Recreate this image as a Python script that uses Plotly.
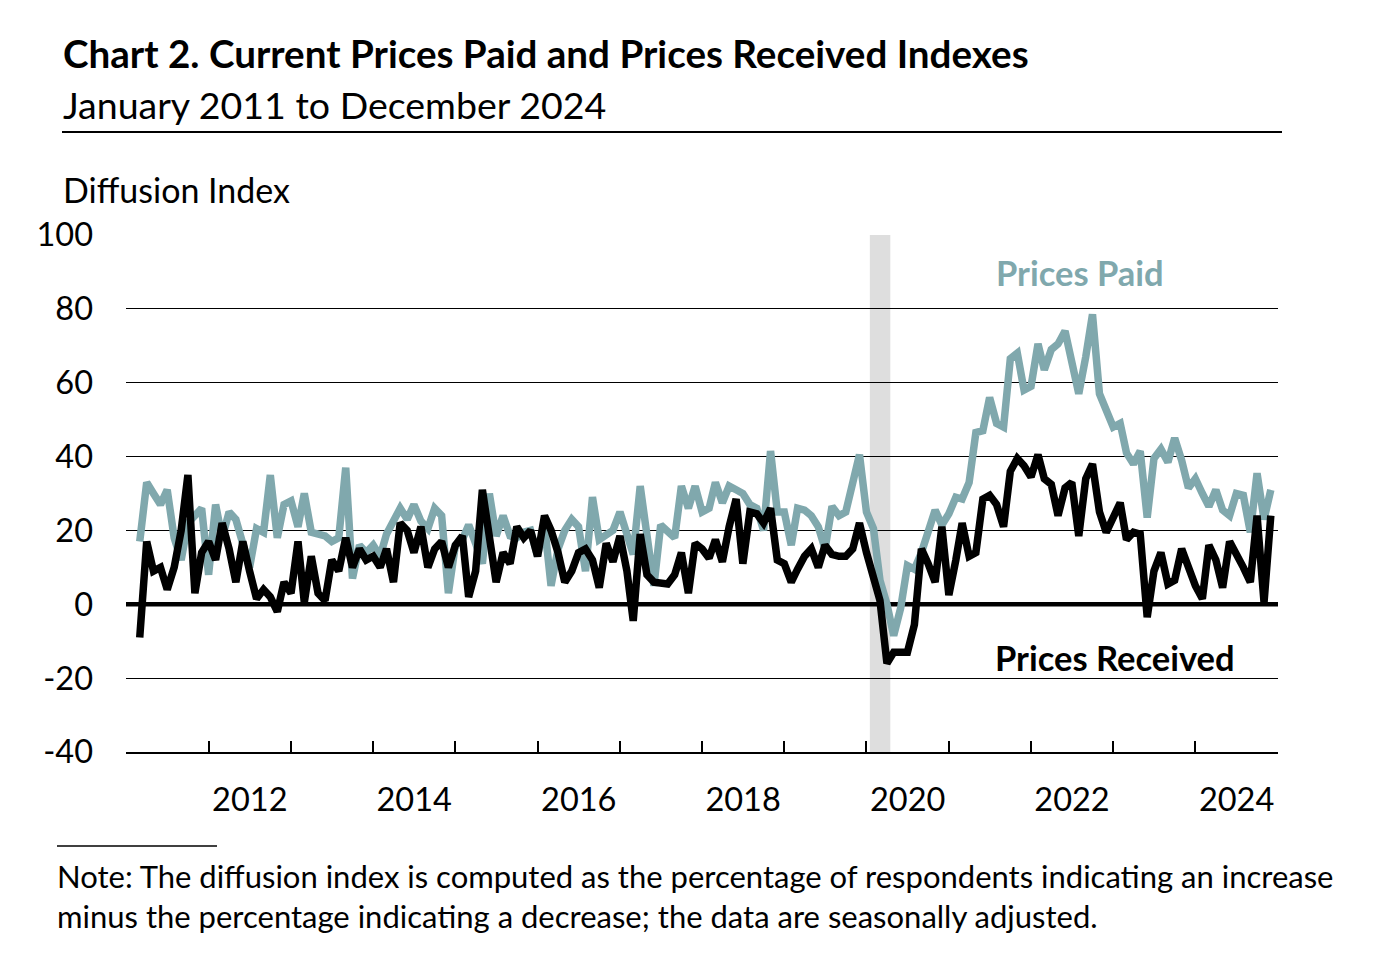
import pandas as pd
import plotly.graph_objects as go

# ---- data (monthly, Mar 2011 - Dec 2024) ----
start_month = "2011-03-01"
end_month = "2024-12-01"
prices_received = [
    -9, 17, 9, 10, 4, 10, 20, 35, 3, 14,
    17, 12, 22, 15, 6, 17, 9, 1.5, 4, 2,
    -2, 6, 3, 17, 0.5, 13, 3, 1, 12, 9,
    18, 10, 15, 12, 13, 10, 15, 6, 22, 20,
    14, 21, 10, 15, 17, 10, 16, 18.5, 2, 9,
    31, 18, 6, 14, 11, 21, 18, 20, 13, 24,
    20, 14, 6, 9, 14, 15, 12, 4.5, 16.5, 11.5,
    18.5, 9, -4.5, 19, 8, 6, 6, 5.5, 8, 14,
    3, 16.5, 15, 12.5, 17.5, 11.5, 21, 28.5, 11, 25,
    24.5, 22, 26, 12, 11, 6, 9.5, 13, 15, 10,
    16, 13.5, 13, 13, 15, 22, 14, 8, 1, -16,
    -13, -13, -13, -5.5, 15, 11, 6, 21, 2.5, 12,
    22, 13, 14, 28.5, 29.5, 27, 21, 36, 39.5, 37.5,
    34.5, 40.5, 34, 32.5, 24, 31.5, 33, 18.5, 34, 38,
    25, 19.5, 23, 27.5, 17.5, 19.5, 19, -3.5, 9, 14,
    5.5, 6.5, 15, 9.5, 5, 1.5, 16, 12, 4.5, 17,
    14, 10, 6, 24, 0.5, 24,
]
prices_paid = [
    17, 33, 30, 27, 31, 18, 12, 22, 24, 26,
    8, 27, 18, 25, 23, 16, 10, 20.5, 19.5, 35,
    18, 27, 28, 21, 30, 19.5, 19, 18.5, 17, 18,
    37, 7, 16, 14, 16, 13, 19, 23, 26, 23,
    27, 22.5, 20.5, 26, 24, 3, 16, 17.5, 21.5, 16.5,
    11, 30, 18.5, 24, 18.5, 18, 19.5, 20, 13, 21.5,
    5, 15, 20, 23, 21, 9, 29, 17.5, 18.5, 20,
    25, 18.5, 13.5, 32, 18, 5, 21.5, 20, 18, 32,
    26, 32, 25, 26, 33, 27.5, 32, 31, 30, 27,
    26, 20, 41.5, 25, 25, 16, 26, 25.5, 24, 21,
    15, 26.5, 24, 25, 32, 40.5, 25, 20.5, 6.5, 0,
    -8.5, -1, 10.5, 9.5, 14, 19, 25.5, 21.5, 24.5, 29,
    28.5, 33, 46.5, 47, 56, 49, 48, 66.5, 68, 58,
    59, 70.5, 63.5, 69, 70.5, 74, 65, 57, 67, 78.5,
    57, 52, 48, 49, 41, 38, 41.5, 23.5, 39.5, 42,
    38.5, 45, 39, 31.5, 34, 30, 26.5, 31, 25.5, 24,
    30, 29.5, 19.5, 35.5, 23, 31,
]
year_labels = ["2012", "2014", "2016", "2018", "2020", "2022", "2024"]
year_ticks = [f"{y}-01-01" for y in range(2011, 2026)]
y_ticks = [-40, -20, 0, 20, 40, 60, 80, 100]
recession_start = "2020-01-16"
recession_end = "2020-04-16"

dates = pd.date_range(start_month, end_month, freq="MS")

GRAY = "#80A8AD"
FONT = "Lato"
X_RANGE = ["2010-12-30", "2025-01-02"]

# page body has an 8px margin: compensate so screen coordinates match
OFF = 8
W, H = 1394 - 2 * OFF, 957 - 2 * OFF
L, R, T, B = 126, 1278, 235, 752          # plot area in screen pixels


def px(x):
    return (x - L) / (R - L)


def py(y):
    return (B - y) / (B - T)


fig = go.Figure()
fig.add_trace(go.Scatter(x=dates, y=prices_paid, mode="lines", name="Prices Paid",
                         line=dict(color=GRAY, width=7.5), xaxis="x", yaxis="y"))
fig.add_trace(go.Scatter(x=dates, y=prices_received, mode="lines", name="Prices Received",
                         line=dict(color="black", width=7.5), xaxis="x", yaxis="y"))
# invisible trace to activate label axis
fig.add_trace(go.Scatter(x=[dates[0]], y=[0], mode="markers", marker=dict(opacity=0),
                         showlegend=False, hoverinfo="skip", xaxis="x2", yaxis="y"))

shapes = [
    dict(type="rect", xref="x", yref="paper", x0=recession_start, x1=recession_end,
         y0=0, y1=1, fillcolor="#DEDEDE", line=dict(width=0), layer="between"),
    dict(type="line", xref="paper", yref="y", x0=0, x1=1, y0=0, y1=0,
         line=dict(color="black", width=4.5), layer="between"),
    dict(type="line", xref="paper", yref="paper", x0=px(62), x1=px(1282),
         y0=py(132), y1=py(132), line=dict(color="black", width=2)),
    dict(type="line", xref="paper", yref="paper", x0=px(57), x1=px(217),
         y0=py(846), y1=py(846), line=dict(color="black", width=1.5)),
]

annotations = [
    dict(text="<b>Chart 2. Current Prices Paid and Prices Received Indexes</b>",
         xref="paper", yref="paper", x=px(61), y=py(53), xanchor="left", yanchor="middle",
         showarrow=False, font=dict(family=FONT, size=38.6, color="black")),
    dict(text="January 2011 to December 2024",
         xref="paper", yref="paper", x=px(61), y=py(104), xanchor="left", yanchor="middle",
         showarrow=False, font=dict(family=FONT, size=37.5, color="black")),
    dict(text="Diffusion Index",
         xref="paper", yref="paper", x=px(61), y=py(190), xanchor="left", yanchor="middle",
         showarrow=False, font=dict(family=FONT, size=34, color="black")),
    dict(text="<b>Prices Paid</b>",
         xref="paper", yref="paper", x=px(1080), y=py(272), xanchor="center", yanchor="middle",
         showarrow=False, font=dict(family=FONT, size=34.5, color=GRAY)),
    dict(text="<b>Prices Received</b>",
         xref="paper", yref="paper", x=px(1115), y=py(657), xanchor="center", yanchor="middle",
         showarrow=False, font=dict(family=FONT, size=34.5, color="black")),
    dict(text="Note: The diffusion index is computed as the percentage of respondents indicating an increase",
         xref="paper", yref="paper", x=px(55), y=py(876), xanchor="left", yanchor="middle",
         showarrow=False, font=dict(family=FONT, size=31, color="black")),
    dict(text="minus the percentage indicating a decrease; the data are seasonally adjusted.",
         xref="paper", yref="paper", x=px(55), y=py(916), xanchor="left", yanchor="middle",
         showarrow=False, font=dict(family=FONT, size=31, color="black")),
]

fig.update_layout(
    width=W, height=H,
    margin=dict(l=L - OFF, r=(W + OFF) - R, t=T - OFF, b=(H + OFF) - B, pad=0),
    paper_bgcolor="white", plot_bgcolor="white",
    showlegend=False,
    font=dict(family=FONT, color="black"),
    xaxis=dict(type="date", range=X_RANGE,
               tickmode="array", tickvals=year_ticks, ticks="inside", ticklen=11,
               tickwidth=1.5, tickcolor="black", showticklabels=False,
               showgrid=False, zeroline=False, showline=True, linecolor="black",
               linewidth=1.5),
    xaxis2=dict(type="date", range=X_RANGE, overlaying="x",
                anchor="y", side="bottom",
                tickmode="array",
                tickvals=[f"{y}-07-02" for y in year_labels],
                ticktext=year_labels, ticks="", showgrid=False, zeroline=False,
                showline=False, tickfont=dict(family=FONT, size=32.5, color="black"),
                ticklabelstandoff=25),
    yaxis=dict(range=[-40, 100], tickmode="array", tickvals=y_ticks,
               ticktext=[str(v) for v in y_ticks],
               showgrid=True, gridcolor="black", gridwidth=1.3, zeroline=False,
               showline=False, ticks="", tickfont=dict(family=FONT, size=32.5, color="black"),
               ticklabelstandoff=32),
    shapes=shapes,
    annotations=annotations,
)

fig.write_html("out.html")
